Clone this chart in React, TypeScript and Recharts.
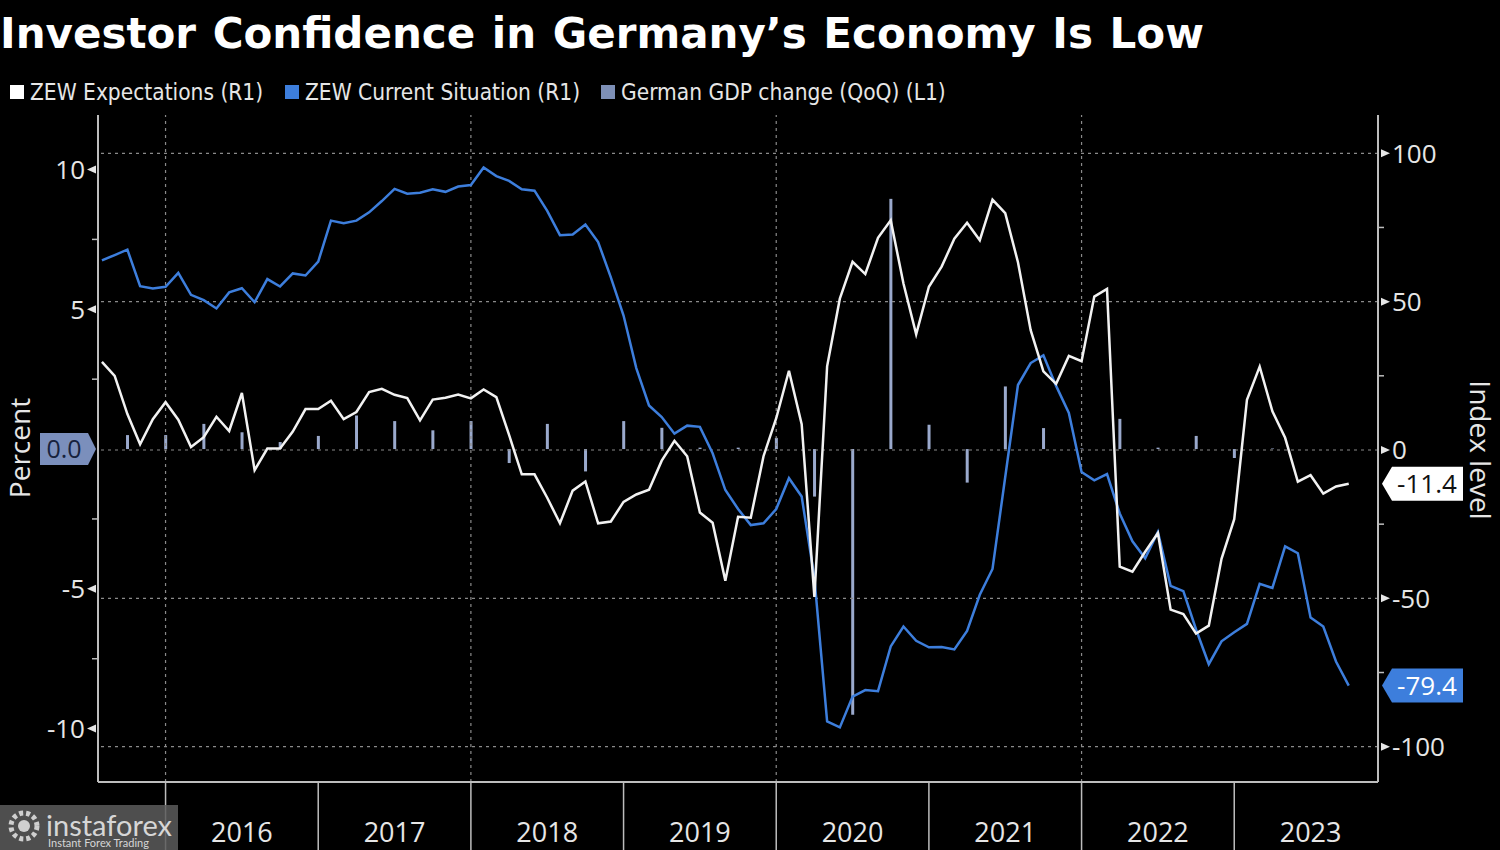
import React from 'react';
import { ComposedChart, Line, Bar, XAxis, YAxis, ReferenceLine } from 'recharts';

// ZEW survey, monthly Jul 2015 .. Sep 2023 (each value sits at its month end)
const expectations = [
  29.7, 25.0, 12.1, 1.9, 10.4, 16.1,
  10.2, 1.0, 4.3, 11.2, 6.4, 19.2, -6.8, 0.5, 0.5, 6.2, 13.8, 13.8,
  16.6, 10.4, 12.8, 19.5, 20.6, 18.6, 17.5, 10.0, 17.0, 17.6, 18.7, 17.4,
  20.4, 17.8, 5.1, -8.2, -8.2, -16.1, -24.7, -13.7, -10.6, -24.7, -24.1, -17.5,
  -15.0, -13.4, -3.6, 3.1, -2.1, -21.1, -24.5, -44.1, -22.5, -22.8, -2.1, 10.7,
  26.7, 8.7, -49.5, 28.2, 51.0, 63.4, 59.3, 71.5, 77.4, 56.1, 39.0, 55.0,
  61.8, 71.2, 76.6, 70.7, 84.4, 79.8, 63.3, 40.4, 26.5, 22.3, 31.7, 29.9,
  51.7, 54.3, -39.3, -41.0, -34.3, -28.0, -53.8, -55.3, -61.9, -59.2, -36.7, -23.3,
  16.9, 28.1, 13.0, 4.1, -10.7, -8.5, -14.7, -12.3, -11.4,
];

const currentSituation = [
  63.9, 65.7, 67.5, 55.2, 54.4, 55.0,
  59.7, 52.3, 50.5, 47.7, 53.1, 54.5, 49.8, 57.6, 55.1, 59.5, 58.8, 63.5,
  77.3, 76.4, 77.3, 80.1, 83.9, 88.0, 86.4, 86.7, 87.9, 87.0, 88.8, 89.3,
  95.2, 92.3, 90.7, 87.9, 87.4, 80.6, 72.4, 72.6, 76.0, 70.1, 58.2, 45.3,
  27.6, 15.0, 11.1, 5.5, 8.2, 7.8, -1.1, -13.5, -19.9, -25.3, -24.7, -19.9,
  -9.5, -15.7, -43.1, -91.5, -93.5, -83.1, -80.9, -81.3, -66.2, -59.5, -64.3, -66.5,
  -66.4, -67.2, -61.0, -48.8, -40.1, -9.1, 21.9, 29.3, 31.9, 21.6, 12.5, -7.4,
  -10.2, -8.1, -21.4, -30.8, -36.5, -27.6, -45.8, -47.6, -60.5, -72.2, -64.5, -61.4,
  -58.6, -45.1, -46.5, -32.5, -34.8, -56.5, -59.5, -71.3, -79.4,
];

// German GDP QoQ %, Q3 2015 .. Q2 2023 (at quarter end)
const gdpChange = [
  0.5, 0.5,
  0.9, 0.6, 0.25, 0.47,
  1.2, 1.0, 0.67, 1.0,
  -0.5, 0.9, -0.8, 1.0,
  0.76, 0.05, 0.05, 0.4,
  -1.7, -9.5, 8.95, 0.87,
  -1.2, 2.24, 0.75, 0.02,
  1.08, 0.05, 0.47, -0.32,
  0.02, 0.0,
];

const FIRST_MONTH = -5; // months after Jan 1 2016 where Jul 2015 ends
const FIRST_QUARTER = -3; // Q3 2015 end
const yearStarts = [0, 12, 24, 36, 48, 60, 72, 84];
const gridYears = [0, 24, 48, 72];
const leftTicks = [-10, -7.5, -5, -2.5, 0, 2.5, 5, 7.5, 10];
const rightTicks = [-100, -75, -50, -25, 0, 25, 50, 75, 100];

const X_MIN = -5.31;
const X_MAX = 95.3;
const PLOT_W = 1280;
const PX_PER_MONTH = PLOT_W / (X_MAX - X_MIN);

const data = expectations.map((v, i) => ({
  t: FIRST_MONTH + i,
  exp: v,
  cur: currentSituation[i],
} as { t: number; exp: number; cur: number; gdp?: number }));
gdpChange.forEach((g, i) => {
  const t = FIRST_QUARTER + i * 3;
  const row = data.find((d) => d.t === t);
  if (row) row.gdp = g;
});

const lastExp = expectations[expectations.length - 1];
const lastCur = currentSituation[currentSituation.length - 1];

const TICK_FONT = "'Open Sans', 'Noto Sans', sans-serif";
const AXIS = '#bdbdbd';
const WHITE = '#f2f2f2';
const BLUE = '#3d7edc';
const GDP = '#9aa9cc';

const LeftTick = (props: any) => {
  const { x, y, payload } = props;
  const v = payload.value;
  if (v === 0) {
    return (
      <g>
        <path d={`M${x - 2} ${y} L${x - 10} ${y - 16} H${x - 58} V${y + 16} H${x - 10} Z`} fill="#7b8fbc" />
        <text x={x - 34} y={y} dy="0.36em" textAnchor="middle" fontSize={25} fill="#17223d" fontFamily={TICK_FONT}>0.0</text>
      </g>
    );
  }
  if (Math.abs(v) % 5 !== 0) {
    return <line x1={x - 6} x2={x} y1={y} y2={y} stroke={AXIS} strokeWidth={1.5} />;
  }
  return (
    <g>
      <path d={`M${x - 11} ${y} L${x - 2} ${y - 4} V${y + 4} Z`} fill="#e6e6e6" />
      <text x={x - 13} y={y} dy="0.36em" textAnchor="end" fontSize={26} fill="#e6e6e6" fontFamily={TICK_FONT}>{v}</text>
    </g>
  );
};

const RightTick = (props: any) => {
  const { x, y, payload } = props;
  const v = payload.value;
  if (v === lastExp || v === lastCur) {
    const isExp = v === lastExp;
    return (
      <g>
        <path d={`M${x + 4} ${y} L${x + 14} ${y - 17} H${x + 85} V${y + 17} H${x + 14} Z`} fill={isExp ? '#ffffff' : BLUE} />
        <text x={x + 49} y={y} dy="0.36em" textAnchor="middle" fontSize={26} fill={isExp ? '#111' : '#ffffff'} fontFamily={TICK_FONT}>{v.toFixed(1)}</text>
      </g>
    );
  }
  if (Math.abs(v) % 50 !== 0) {
    return <line x1={x} x2={x + 6} y1={y} y2={y} stroke={AXIS} strokeWidth={1.5} />;
  }
  return (
    <g>
      <path d={`M${x + 12} ${y} L${x + 3} ${y - 4} V${y + 4} Z`} fill="#e6e6e6" />
      <text x={x + 14} y={y} dy="0.36em" textAnchor="start" fontSize={26} fill="#e6e6e6" fontFamily={TICK_FONT}>{v}</text>
    </g>
  );
};

const YearTick = (props: any) => {
  const { x, y, payload } = props;
  return (
    <g>
      <line x1={x} x2={x} y1={y} y2={850} stroke={AXIS} strokeWidth={1.5} />
      <text x={x + 6 * PX_PER_MONTH} y={y + 50} dy="0.36em" textAnchor="middle" fontSize={27} fill="#e6e6e6" fontFamily={TICK_FONT}>
        {2016 + payload.value / 12}
      </text>
    </g>
  );
};

const legendItems = [
  { label: 'ZEW Expectations (R1)', color: '#ffffff', x: 10 },
  { label: 'ZEW Current Situation (R1)', color: BLUE, x: 285 },
  { label: 'German GDP change (QoQ) (L1)', color: '#7d8fb6', x: 601 },
];

const LEGEND_FONT = "'DejaVu Sans Condensed', 'Liberation Sans Narrow', 'Noto Sans', sans-serif";

export default function App() {
  return (
    <div style={{ position: 'absolute', left: 0, top: 0, width: 1500, height: 850, background: '#000', overflow: 'hidden' }}>
      <ComposedChart width={1500} height={850} data={data} margin={{ top: 115, right: 0, bottom: 0, left: 0 }}>
        <XAxis
          dataKey="t"
          type="number"
          domain={[X_MIN, X_MAX]}
          allowDataOverflow
          ticks={yearStarts}
          interval={0}
          height={68}
          tickSize={0}
          tickMargin={0}
          tickLine={false}
          axisLine={{ stroke: AXIS, strokeWidth: 2 }}
          tick={<YearTick />}
        />
        <YAxis
          yAxisId="left"
          orientation="left"
          width={98}
          domain={[-11.91, 11.95]}
          allowDataOverflow
          ticks={leftTicks}
          interval={0}
          tickSize={0}
          tickMargin={0}
          tickLine={false}
          axisLine={{ stroke: AXIS, strokeWidth: 2 }}
          tick={<LeftTick />}
        />
        <YAxis
          yAxisId="right"
          orientation="right"
          width={122}
          domain={[-111.9, 112.9]}
          allowDataOverflow
          ticks={[...rightTicks, lastExp, lastCur]}
          interval={0}
          tickSize={0}
          tickMargin={0}
          tickLine={false}
          axisLine={{ stroke: AXIS, strokeWidth: 2 }}
          tick={<RightTick />}
        />
        {rightTicks.filter((v) => v % 50 === 0).map((v) => (
          <ReferenceLine key={`h${v}`} yAxisId="right" y={v} stroke="#8a8a8a" strokeDasharray="3 4" strokeWidth={1.2} />
        ))}
        {gridYears.map((t) => (
          <ReferenceLine key={`v${t}`} yAxisId="right" x={t} stroke="#8a8a8a" strokeDasharray="3 4" strokeWidth={1.2} />
        ))}
        <Bar yAxisId="left" dataKey="gdp" fill={GDP} barSize={3} isAnimationActive={false} />
        <Line yAxisId="right" dataKey="cur" stroke={BLUE} strokeWidth={2.5} dot={false} isAnimationActive={false} />
        <Line yAxisId="right" dataKey="exp" stroke={WHITE} strokeWidth={2.5} dot={false} isAnimationActive={false} />
      </ComposedChart>

      <svg width={1500} height={850} style={{ position: 'absolute', left: 0, top: 0, pointerEvents: 'none' }}>
        <text x={0} y={33} dy="0.36em" fontSize={42} fontWeight="bold" fill="#ffffff" fontFamily="'DejaVu Sans', sans-serif" wordSpacing={2}>
          Investor Confidence in Germany’s Economy Is Low
        </text>
        {legendItems.map((it) => (
          <g key={it.label}>
            <rect x={it.x} y={85} width={14} height={14} fill={it.color} />
            <text x={it.x + 20} y={92} dy="0.36em" fontSize={22.5} fill="#e6e6e6" fontFamily={LEGEND_FONT}>{it.label}</text>
          </g>
        ))}
        <text transform="translate(20 448) rotate(-90)" textAnchor="middle" dy="0.36em" fontSize={28} fill="#e6e6e6" fontFamily={TICK_FONT}>Percent</text>
        <text transform="translate(1480 450) rotate(90)" textAnchor="middle" dy="0.36em" fontSize={28} fill="#e6e6e6" fontFamily={TICK_FONT}>Index level</text>
        <g>
          <rect x={0} y={805} width={178} height={45} fill="#5c5c5c" opacity={0.85} />
          <circle cx={24} cy={826} r={13} fill="none" stroke="#cfcfcf" strokeWidth={5} strokeDasharray="4 3" />
          <circle cx={24} cy={826} r={6} fill="#cfcfcf" />
          <text x={46} y={836} fontSize={29} fill="#d6d6d6" fontFamily="'Lato', 'Open Sans', sans-serif">instaforex</text>
          <text x={48} y={847} fontSize={11} fill="#d6d6d6" fontFamily="'Lato', 'Open Sans', sans-serif">Instant Forex Trading</text>
        </g>
      </svg>
    </div>
  );
}
